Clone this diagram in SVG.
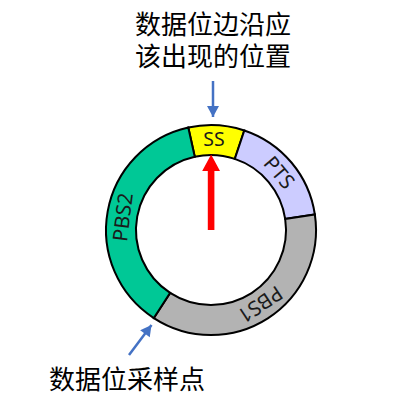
<svg xmlns="http://www.w3.org/2000/svg" width="401" height="412" viewBox="0 0 401 412">
<style>
.seg{stroke:#000;stroke-width:2;}
.lbl{font-family:"Noto Sans","Liberation Sans",sans-serif;font-size:20.5px;fill:#1a1a1a;text-anchor:middle;dominant-baseline:central;}
.cap{font-family:"Noto Sans CJK SC","Noto Sans",sans-serif;font-size:26px;fill:#000;text-anchor:middle;}
.blue{stroke:#4472C4;stroke-width:2.5;fill:none;}
</style>
<defs>
<marker id="bh" markerUnits="userSpaceOnUse" markerWidth="12" markerHeight="12" viewBox="0 0 10 11" refX="10" refY="5.5" orient="auto">
<path d="M0,0 L10,5.5 L0,11 z" fill="#4472C4"/>
</marker>
</defs>
<rect width="401" height="412" fill="#fff"/>
<g id="ring">
<g id="ss">
<path class="seg" fill="#FFFF00" d="M188.28,127.49 A105,105 0 0 1 244.32,130.43 L234.80,158.88 A75,75 0 0 0 194.77,156.78 Z"/>
<text class="lbl" x="214" y="138" style="font-size:19.5px">SS</text>
</g>
<g id="pts">
<path class="seg" fill="#CCCCFF" d="M244.32,130.43 A105,105 0 0 1 314.85,214.48 L285.18,218.91 A75,75 0 0 0 234.80,158.88 Z"/>
<text class="lbl" x="279.9" y="172.1" transform="rotate(50 279.9 172.1)">PTS</text>
</g>
<g id="pbs1">
<path class="seg" fill="#B3B3B3" d="M314.85,214.48 A105,105 0 0 1 153.82,318.06 L170.15,292.90 A75,75 0 0 0 285.18,218.91 Z"/>
<text class="lbl" x="260.7" y="305.1" transform="rotate(146.5 260.7 305.1)">PBS1</text>
</g>
<g id="pbs2">
<path class="seg" fill="#00C896" d="M153.82,318.06 A105,105 0 0 1 188.28,127.49 L194.77,156.78 A75,75 0 0 0 170.15,292.90 Z"/>
<text class="lbl" x="122" y="217" transform="rotate(-83 122 217)">PBS2</text>
</g>
</g>
<g id="red-arrow">
<path d="M207.8,230 L214.4,230 L214.4,171 L220,171 L211.1,154.5 L202.2,171 L207.8,171 Z" fill="#FF0000"/>
</g>
<g id="top-label">
<text class="cap" x="213" y="34">数据位边沿应<tspan x="213" y="66">该出现的位置</tspan></text>
</g>
<g id="bottom-label">
<text class="cap" x="127" y="389">数据位采样点</text>
</g>
<g id="connectors">
<line class="blue" x1="213" y1="81" x2="213" y2="117" marker-end="url(#bh)"/>
<line class="blue" x1="129" y1="355" x2="151.5" y2="325" marker-end="url(#bh)"/>
</g>
</svg>
